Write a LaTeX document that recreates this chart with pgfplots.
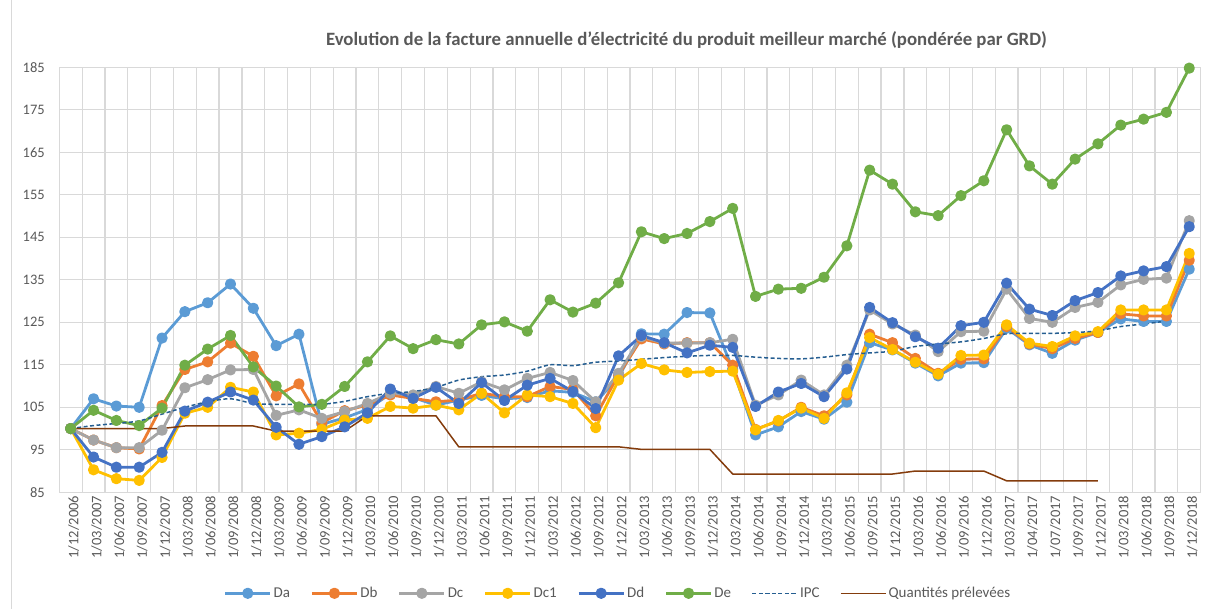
\documentclass[border=0pt]{standalone}
\usepackage{fontspec}
\setmainfont{Carlito}
\usepackage{pgfplots}
\usepackage{pgfplotstable}
\pgfplotsset{compat=1.18}
\definecolor{cDa}{HTML}{5B9BD5}
\definecolor{cDb}{HTML}{ED7D31}
\definecolor{cDc}{HTML}{A5A5A5}
\definecolor{cDcone}{HTML}{FFC000}
\definecolor{cDd}{HTML}{4472C4}
\definecolor{cDe}{HTML}{70AD47}
\definecolor{cIPC}{HTML}{255E91}
\definecolor{cQ}{HTML}{843C0C}
\definecolor{gridc}{HTML}{D9D9D9}
\definecolor{textc}{HTML}{595959}

\pgfplotstableread{
x Da Db Dc Dc1 Dd De IPC Q
0 100 100 100 100 100 100 100 100
1 107.0 97.3 97.3 90.3 93.3 104.3 100.7 100
2 105.3 95.5 95.5 88.2 90.9 101.9 101.2 100
3 105.0 95.2 95.5 87.8 90.9 100.7 101.8 100
4 121.3 105.4 99.6 93.2 94.4 104.8 103.4 100
5 127.5 113.9 109.6 103.6 104.1 114.9 105.0 100.6
6 129.6 115.7 111.5 105.0 106.2 118.7 106.3 100.6
7 134.0 120.1 113.8 109.7 108.6 121.9 107.0 100.6
8 128.3 117.0 113.9 108.6 106.7 114.5 105.9 100.6
9 119.5 107.7 103.1 98.5 100.3 110.0 105.7 99.4
10 122.2 110.5 104.4 98.9 96.3 105.1 105.7 99.4
11 101.0 101.4 102.4 99.8 98.1 105.7 105.7 99.4
12 102.5 104.2 104.0 102.0 100.4 109.9 106.4 99.4
13 104.5 105.5 105.9 102.4 103.7 115.7 107.5 103.0
14 108.2 107.9 108.3 105.2 109.3 121.8 108.3 103.0
15 107.3 107.1 107.9 104.8 107.1 118.8 108.7 103.0
16 105.5 106.3 109.9 105.5 109.7 120.9 109.7 103.0
17 106.7 106.7 108.3 104.4 105.9 119.9 111.4 95.7
18 107.8 108.3 111.0 108.3 110.8 124.4 112.2 95.7
19 107.0 107.5 109.1 103.7 106.6 125.1 112.6 95.7
20 107.3 107.5 111.8 107.9 110.2 122.9 113.5 95.7
21 108.9 109.9 113.2 107.5 111.8 130.3 115.0 95.7
22 108.5 109.2 111.3 105.9 108.7 127.4 114.8 95.7
23 106.3 103.0 106.3 100.2 104.7 129.5 115.6 95.7
24 112.0 112.6 113.0 111.4 117.1 134.3 115.9 95.7
25 122.3 121.1 121.6 115.3 121.9 146.3 116.3 95.1
26 122.2 119.9 120.1 113.8 120.2 144.7 116.7 95.1
27 127.3 120.2 120.1 113.2 117.8 145.9 117.0 95.1
28 127.2 120.2 120.2 113.4 119.6 148.7 117.2 95.1
29 114.0 114.9 121.0 113.5 119.1 151.8 117.2 89.3
30 98.5 99.8 105.5 99.7 105.2 131.1 116.8 89.3
31 100.4 101.8 107.9 101.9 108.6 132.8 116.5 89.3
32 104.0 105.0 111.4 104.8 110.6 133.0 116.4 89.3
33 102.2 103.0 107.9 102.4 107.5 135.6 116.8 89.3
34 106.2 107.9 114.9 108.4 114.0 143.0 117.4 89.3
35 120.2 122.2 127.9 121.4 128.5 160.8 117.8 89.3
36 118.5 120.2 124.6 118.6 124.9 157.5 118.2 89.3
37 115.4 116.5 122.0 115.6 121.6 151.0 119.3 90.0
38 112.4 113.0 118.1 112.8 118.9 150.1 119.9 90.0
39 115.4 116.3 122.8 117.2 124.2 154.8 120.4 90.0
40 115.5 116.4 122.9 117.3 125.0 158.3 121.2 90.0
41 123.6 124.0 132.8 124.4 134.2 170.3 122.3 87.7
42 119.7 119.9 125.9 120.1 128.1 161.8 122.4 87.7
43 117.7 118.8 125.0 119.3 126.6 157.5 122.4 87.7
44 120.8 121.2 128.5 121.8 130.1 163.4 122.6 87.7
45 122.6 122.6 129.7 122.8 132.0 167.0 123.0 87.7
46 125.8 127.0 133.8 127.9 135.9 171.4 124.0 nan
47 125.2 126.5 135.1 127.9 137.1 172.8 124.6 nan
48 125.2 126.5 135.4 127.9 138.1 174.4 125.3 nan
49 137.5 139.6 148.9 141.2 147.5 184.8 nan nan
}\datatable

\begin{document}
\begin{tikzpicture}
\useasboundingbox (0,0) rectangle (1206bp,609bp);
\draw[gridc, line width=1bp] (11bp,0bp) -- (11bp,609bp);
\begin{axis}[
  at={(59.3bp,116.7bp)}, anchor=south west,
  scale only axis, width=1141.4bp, height=425bp,
  xmin=-0.5, xmax=49.5, ymin=85, ymax=185,
  ytick={85,95,...,185},
  xtick={0,...,49},
  xticklabels={1/12/2006,1/03/2007,1/06/2007,1/09/2007,1/12/2007,1/03/2008,1/06/2008,1/09/2008,1/12/2008,1/03/2009,1/06/2009,1/09/2009,1/12/2009,1/03/2010,1/06/2010,1/09/2010,1/12/2010,1/03/2011,1/06/2011,1/09/2011,1/12/2011,1/03/2012,1/06/2012,1/09/2012,1/12/2012,1/03/2013,1/06/2013,1/09/2013,1/12/2013,1/03/2014,1/06/2014,1/09/2014,1/12/2014,1/03/2015,1/06/2015,1/09/2015,1/12/2015,1/03/2016,1/06/2016,1/09/2016,1/12/2016,1/03/2017,1/04/2017,1/07/2017,1/09/2017,1/12/2017,1/03/2018,1/06/2018,1/09/2018,1/12/2018},
  minor xtick={-0.5,0.5,...,49.5},
  xminorgrids=true, xmajorgrids=false, ymajorgrids=true,
  grid style={gridc, line width=1.2bp},
  minor grid style={gridc, line width=1.2bp},
  axis line style={gridc, line width=1.2bp},
  major tick length=0pt, minor tick length=0pt,
  /pgf/number format/assume math mode=true,
  tick label style={font=\fontsize{14.5bp}{16bp}\selectfont, text=textc},
  xticklabel style={rotate=90, anchor=east, xshift=0bp, yshift=-3bp},
  yticklabel style={xshift=-11bp},
  legend columns=-1,
  legend style={at={(0.4895,-0.2376)}, anchor=center, draw=none, fill=none,
    font=\fontsize{15bp}{17bp}\selectfont, text=textc,
    /tikz/every even column/.append style={column sep=18.5bp}},
  legend image code/.code={\draw[mark repeat=2,mark phase=2] plot coordinates {(0bp,0bp) (22.5bp,0bp) (45bp,0bp)};},
  every axis plot/.append style={line join=round},
]
\addplot[cDa, line width=2.8bp, mark=*, mark size=4.2bp] table[x=x,y=Da]{\datatable};
\addlegendentry{Da}
\addplot[cDb, line width=2.8bp, mark=*, mark size=4.2bp] table[x=x,y=Db]{\datatable};
\addlegendentry{Db}
\addplot[cDc, line width=2.8bp, mark=*, mark size=4.2bp] table[x=x,y=Dc]{\datatable};
\addlegendentry{Dc}
\addplot[cDcone, line width=2.8bp, mark=*, mark size=4.2bp] table[x=x,y=Dc1]{\datatable};
\addlegendentry{Dc1}
\addplot[cDd, line width=2.8bp, mark=*, mark size=4.2bp] table[x=x,y=Dd]{\datatable};
\addlegendentry{Dd}
\addplot[cDe, line width=2.8bp, mark=*, mark size=4.2bp] table[x=x,y=De]{\datatable};
\addlegendentry{De}
\addplot[cIPC, line width=1.5bp, dash pattern=on 4bp off 2.5bp, smooth, no marks] table[x=x,y=IPC]{\datatable};
\addlegendentry{IPC}
\addplot[cQ, line width=1.5bp, no marks] table[x=x,y=Q]{\datatable};
\addlegendentry{Quantités prélevées}
\end{axis}
\node[text=textc, font=\bfseries\fontsize{18.8bp}{21bp}\selectfont] at (686.5bp,569bp) {Evolution de la facture annuelle d'électricité du produit meilleur marché (pondérée par GRD)};
\end{tikzpicture}
\end{document}
